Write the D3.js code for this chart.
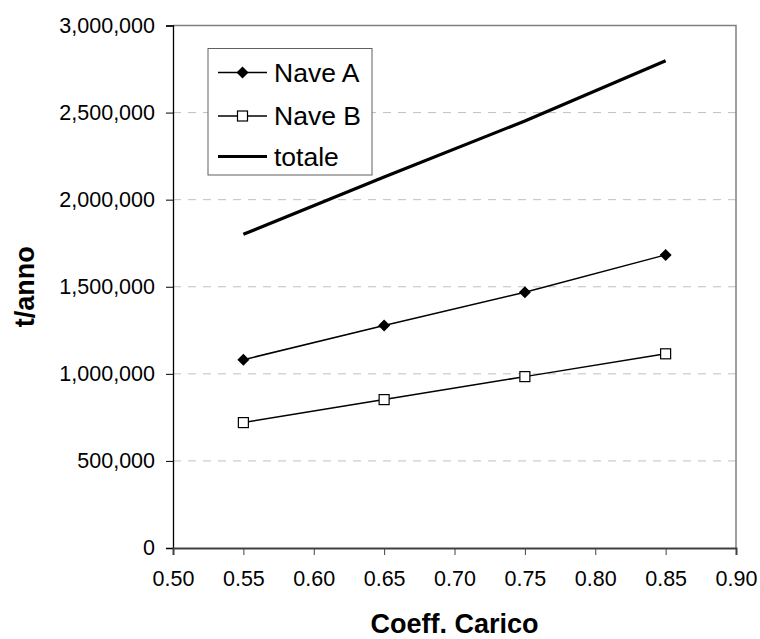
<!DOCTYPE html>
<html>
<head>
<meta charset="utf-8">
<script src="https://cdn.jsdelivr.net/npm/d3@7"></script>
<style>
  body { margin: 0; background: #fff; }
  svg { display: block; font-family: "Liberation Sans", Arial, sans-serif; }
</style>
</head>
<body>
<div id="chart"></div>
<script>
// load factor values on the x axis
const coeff = [0.55, 0.65, 0.75, 0.85];
const naveA = [1081000, 1278000, 1468000, 1683000];
const naveB = [720000, 852000, 984000, 1115000];
const totale = [1801000, 2130000, 2452000, 2798000];
const xTicks = [0.50, 0.55, 0.60, 0.65, 0.70, 0.75, 0.80, 0.85, 0.90];
const yTicks = [0, 500000, 1000000, 1500000, 2000000, 2500000, 3000000];
const seriesNames = ["Nave A", "Nave B", "totale"];

const width = 760, height = 639;
const margin = {top: 25.5, right: 24, bottom: 91, left: 173};

const svg = d3.select("#chart").append("svg")
    .attr("width", width)
    .attr("height", height);

const x = d3.scaleLinear().domain([0.5, 0.9]).range([margin.left, width - margin.right]);
const y = d3.scaleLinear().domain([0, 3000000]).range([height - margin.bottom, margin.top]);

// grid lines
svg.append("g")
    .selectAll("line")
    .data(yTicks.filter(d => d > 0 && d < 3000000))
    .join("line")
    .attr("x1", margin.left)
    .attr("x2", width - margin.right)
    .attr("y1", d => y(d))
    .attr("y2", d => y(d))
    .attr("stroke", "#c0c0c0")
    .attr("stroke-width", 1)
    .attr("stroke-dasharray", "8,7");

// top / right border of plot area
svg.append("path")
    .attr("d", `M${margin.left},${y(3000000)}H${x(0.9)}V${y(0)}`)
    .attr("fill", "none")
    .attr("stroke", "#808080")
    .attr("stroke-width", 1.5);

const fmt = d3.format(",");

const yAxis = svg.append("g")
    .attr("transform", `translate(${margin.left},0)`)
    .call(d3.axisLeft(y).tickValues(yTicks).tickFormat(fmt).tickSize(7).tickPadding(11));
yAxis.select(".domain").attr("stroke", "#000").attr("stroke-width", 1.3);
yAxis.selectAll(".tick line").attr("stroke", "#000");
yAxis.selectAll("text").attr("font-size", 21.5).attr("fill", "#000")
    .attr("font-family", "Liberation Sans, Arial, sans-serif");

const xAxis = svg.append("g")
    .attr("transform", `translate(0,${height - margin.bottom})`)
    .call(d3.axisBottom(x).tickValues(xTicks).tickFormat(d3.format(".2f")).tickSize(7).tickPadding(16));
xAxis.select(".domain").attr("stroke", "#404040").attr("stroke-width", 2);
xAxis.selectAll(".tick line").attr("stroke", "#404040");
xAxis.selectAll("text").attr("font-size", 21.5).attr("fill", "#000")
    .attr("font-family", "Liberation Sans, Arial, sans-serif");

// axis titles
svg.append("text")
    .attr("x", (margin.left + width - margin.right) / 2)
    .attr("y", 633)
    .attr("text-anchor", "middle")
    .attr("font-size", 27)
    .attr("font-weight", "bold")
    .text("Coeff. Carico");

svg.append("text")
    .attr("transform", `translate(34,${(margin.top + height - margin.bottom) / 2}) rotate(-90)`)
    .attr("text-anchor", "middle")
    .attr("font-size", 27)
    .attr("font-weight", "bold")
    .text("t/anno");

const line = d3.line().x((d, i) => x(coeff[i])).y(d => y(d));

svg.append("path").datum(totale)
    .attr("d", line).attr("fill", "none").attr("stroke", "#000").attr("stroke-width", 3.2);
svg.append("path").datum(naveA)
    .attr("d", line).attr("fill", "none").attr("stroke", "#000").attr("stroke-width", 1.5);
svg.append("path").datum(naveB)
    .attr("d", line).attr("fill", "none").attr("stroke", "#000").attr("stroke-width", 1.5);

const diamond = "M0,-6L6,0L0,6L-6,0Z";

svg.append("g").selectAll("path")
    .data(naveA)
    .join("path")
    .attr("transform", (d, i) => `translate(${x(coeff[i])},${y(d)})`)
    .attr("d", diamond)
    .attr("fill", "#000");

svg.append("g").selectAll("rect")
    .data(naveB)
    .join("rect")
    .attr("x", (d, i) => x(coeff[i]) - 5)
    .attr("y", d => y(d) - 5)
    .attr("width", 10)
    .attr("height", 10)
    .attr("fill", "#fff")
    .attr("stroke", "#000")
    .attr("stroke-width", 1.2);

// legend
const legend = svg.append("g").attr("transform", "translate(208,48.5)");
legend.append("rect")
    .attr("width", 164)
    .attr("height", 126.5)
    .attr("fill", "#fff")
    .attr("stroke", "#606060")
    .attr("stroke-width", 1);

const rowY = [24, 67.5, 108];
seriesNames.forEach((name, i) => {
    const g = legend.append("g").attr("transform", `translate(0,${rowY[i]})`);
    g.append("line")
        .attr("x1", 10).attr("x2", 59)
        .attr("stroke", "#000")
        .attr("stroke-width", i === 2 ? 3.2 : 1.5);
    if (i === 0) {
        g.append("path").attr("transform", "translate(34.5,0)").attr("d", diamond).attr("fill", "#000");
    } else if (i === 1) {
        g.append("rect").attr("x", 29.5).attr("y", -5).attr("width", 10).attr("height", 10)
            .attr("fill", "#fff").attr("stroke", "#000").attr("stroke-width", 1.2);
    }
    g.append("text")
        .attr("x", 66)
        .attr("dy", "0.35em")
        .attr("font-size", 26.5)
        .text(name);
});
</script>
</body>
</html>
